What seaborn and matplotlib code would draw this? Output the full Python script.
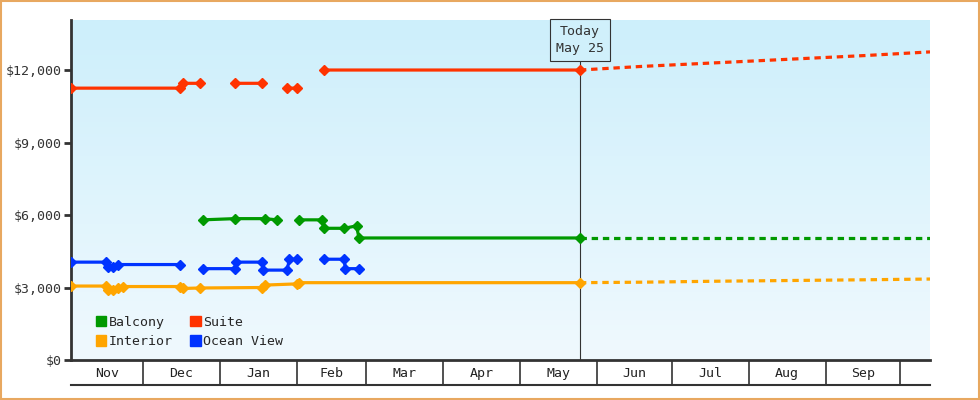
import numpy as np
import matplotlib
matplotlib.use("Agg")
import matplotlib.pyplot as plt
from matplotlib.patches import Rectangle
from matplotlib.colors import LinearSegmentedColormap
import seaborn as sns

sns.set_theme(style="white")
plt.rcParams['font.family'] = ['DejaVu Sans Mono']
nan = np.nan

# days since Nov 1
suite_days = [0, 44, 45, 52, nan, 66, 77, nan, 87, 91, nan, 102, 205]
suite_vals = [11250, 11250, 11450, 11450, nan, 11450, 11450, nan, 11250, 11250, nan, 12000, 12000]
balc_days = [53, 66, 78, 83, nan, 92, 101, 102, 110, 115, 116, 205]
balc_vals = [5800, 5850, 5850, 5800, nan, 5800, 5800, 5450, 5450, 5550, 5050, 5050]
ocean_days = [0, 14, 15, 17, 19, 44, nan, 53, 66, 66.5, 77, 77.5, 87, 88, 91, nan, 102, 110, 110.5, 116]
ocean_vals = [4050, 4050, 3850, 3850, 3950, 3950, nan, 3780, 3780, 4050, 4050, 3720, 3720, 4170, 4170, nan, 4170, 4170, 3780, 3780]
int_days = [0, 14, 15, 17, 19, 21, 44, 45, 52, 77, 78, 91, 92, 205]
int_vals = [3060, 3060, 2900, 2900, 2980, 3040, 3040, 2960, 2980, 3000, 3100, 3150, 3200, 3200]

fc_days = [205, 230, 260, 290, 320, 346]
fc_suite = [12000, 12150, 12300, 12450, 12600, 12750]
fc_balc = [5050, 5050, 5050, 5050, 5050, 5050]
fc_int = [3200, 3220, 3260, 3290, 3320, 3350]

month_labels = ["Nov", "Dec", "Jan", "Feb", "Mar", "Apr", "May", "Jun", "Jul", "Aug", "Sep", ""]
month_starts = [0, 29, 60, 91, 119, 150, 181, 212, 242, 273, 304, 334]
x_min, x_max = 0, 346
today = 205

colors = {"Balcony": "#009900", "Suite": "#ff3300", "Interior": "#ffa500", "Ocean View": "#0033ff"}

fig = plt.figure(figsize=(9.8, 4.0), dpi=100)
fig.patch.set_facecolor("white")
fig.add_artist(Rectangle((0.001, 0.002), 0.998, 0.996, transform=fig.transFigure,
                         fill=False, edgecolor="#e8a860", lw=1.5))
ax = fig.add_axes([71/980, 40/400, 859/980, 340/400])
grad = np.linspace(0, 1, 256).reshape(-1, 1)
cmap = LinearSegmentedColormap.from_list("bg", ["#f0f9fe", "#cdeffb"])
ax.imshow(grad, aspect="auto", cmap=cmap, origin="lower",
          extent=[x_min, x_max, 0, 14070], zorder=0)

def series(d, v, c):
    ax.plot(d, v, color=c, lw=2.3, zorder=3)
    ax.plot(d, v, color=c, lw=0, marker="D", ms=5.5, zorder=4)

series(suite_days, suite_vals, colors["Suite"])
series(balc_days, balc_vals, colors["Balcony"])
series(ocean_days, ocean_vals, colors["Ocean View"])
series(int_days, int_vals, colors["Interior"])
for v, c in [(fc_suite, "Suite"), (fc_balc, "Balcony"), (fc_int, "Interior")]:
    ax.plot(fc_days, v, color=colors[c], lw=2.3, ls=(0, (2, 1.5)), zorder=3)

ax.axvline(today, ymax=(360-60)/340, color="#333333", lw=0.8, zorder=2)
ax.text(today, 13250, "Today\nMay 25", ha="center", va="center", fontsize=9.5, color="#333333",
        linespacing=1.4,
        bbox=dict(boxstyle="square,pad=0.45", fc="#d0f0fb", ec="#333333", lw=0.8), zorder=5)

ax.set_xlim(x_min, x_max)
ax.set_ylim(0, 14070)
ax.set_yticks([0, 3000, 6000, 9000, 12000])
ax.set_yticklabels(["$0", "$3,000", "$6,000", "$9,000", "$12,000"], fontsize=9.5, color="#333333")
ax.tick_params(axis="y", direction="out", length=5, width=2, color="#333333", left=True, pad=2)
ax.set_xticks([])
for s in ["top", "right"]:
    ax.spines[s].set_visible(False)
ax.spines["left"].set_color("#333333"); ax.spines["left"].set_linewidth(2)
ax.spines["bottom"].set_color("#333333"); ax.spines["bottom"].set_linewidth(2)

handles = [Rectangle((0, 0), 1, 1, color=colors[k]) for k in ["Balcony", "Interior", "Suite", "Ocean View"]]
ax.legend(handles, ["Balcony", "Interior", "Suite", "Ocean View"], ncol=2, loc="lower left",
          bbox_to_anchor=(0.015, 0.0), frameon=False, fontsize=9.5, handlelength=0.8, handleheight=0.8,
          handletextpad=0.2, columnspacing=1.3, labelspacing=0.5)

bx = fig.add_axes([71/980, 15/400, 859/980, 25/400], sharex=ax)
bx.set_facecolor("none")
bx.set_ylim(0, 1)
bx.set_yticks([]); bx.set_xticks([])
for s in ["top", "right", "left"]:
    bx.spines[s].set_visible(False)
bx.spines["bottom"].set_color("#333333"); bx.spines["bottom"].set_linewidth(1.5)
bx.vlines(month_starts[1:], 0, 1, color="#333333", lw=1.2)
ends = month_starts[1:] + [x_max]
for lab, a, b in zip(month_labels, month_starts, ends):
    bx.text((a+b)/2, 0.45, lab, ha="center", va="center", fontsize=9.5, color="#222222")

fig.savefig("out.png", dpi=100)
